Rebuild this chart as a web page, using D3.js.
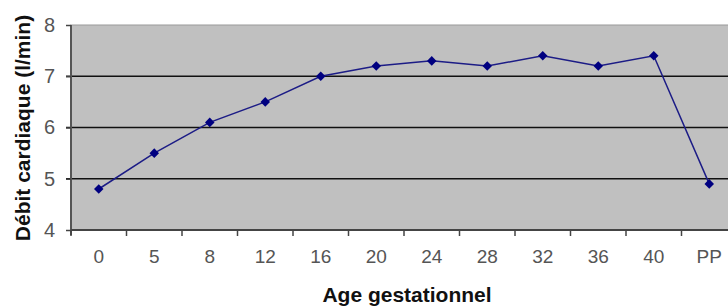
<!DOCTYPE html>
<html>
<head>
<meta charset="utf-8">
<script src="https://cdn.jsdelivr.net/npm/d3@7"></script>
<style>
  body { margin: 0; background: #fff; }
  text { font-family: Arial, "Liberation Sans", sans-serif; }
</style>
</head>
<body>
<svg id="chart"></svg>
<script>
// Data
const ages = ["0", "5", "8", "12", "16", "20", "24", "28", "32", "36", "40", "PP"];
const debit = [4.8, 5.5, 6.1, 6.5, 7.0, 7.2, 7.3, 7.2, 7.4, 7.2, 7.4, 4.9];
const yTicks = [4, 5, 6, 7, 8];

const width = 728;
const height = 306;
const plotLeft = 71, plotRight = 737, plotTop = 25, plotBottom = 230;

let svg = d3.select("#chart").attr("width", width).attr("height", height);

let x = d3.scaleBand().domain(ages).range([plotLeft, plotRight]).padding(0);
let y = d3.scaleLinear().domain([4, 8]).range([plotBottom, plotTop]);

// plot area
svg.append("rect")
  .attr("x", plotLeft).attr("y", plotTop)
  .attr("width", plotRight - plotLeft).attr("height", plotBottom - plotTop)
  .attr("fill", "#c0c0c0")
  .attr("stroke", "#9a9a9a")
  .attr("stroke-width", 1);

// gridlines
svg.append("g")
  .selectAll("line")
  .data(yTicks.filter((d) => d > 4 && d < 8))
  .enter()
  .append("line")
  .attr("x1", plotLeft - 5).attr("x2", plotRight)
  .attr("y1", (d) => y(d)).attr("y2", (d) => y(d))
  .attr("stroke", "#111")
  .attr("stroke-width", 1.6);

// y axis
svg.append("line")
  .attr("x1", plotLeft).attr("x2", plotLeft)
  .attr("y1", plotTop).attr("y2", plotBottom + 5)
  .attr("stroke", "#555").attr("stroke-width", 2);

svg.append("g")
  .attr("transform", "translate(" + plotLeft + ",0)")
  .call(d3.axisLeft(y).tickValues(yTicks).tickFormat(d3.format("d")).tickSize(5).tickPadding(11))
  .call((g) => g.select(".domain").remove())
  .call((g) => g.selectAll("line").attr("stroke", "#444").attr("stroke-width", 1.5))
  .call((g) => g.selectAll("text").attr("font-size", 20).attr("fill", "#555")
    .style("font-family", "Arial, 'Liberation Sans', sans-serif"));

// x axis
svg.append("line")
  .attr("x1", plotLeft).attr("x2", plotRight)
  .attr("y1", plotBottom).attr("y2", plotBottom)
  .attr("stroke", "#444").attr("stroke-width", 2);

svg.append("g")
  .selectAll("line")
  .data(ages)
  .enter()
  .append("line")
  .attr("x1", (d) => x(d)).attr("x2", (d) => x(d))
  .attr("y1", plotBottom).attr("y2", plotBottom + 6)
  .attr("stroke", "#444").attr("stroke-width", 1.5);

svg.append("g")
  .attr("transform", "translate(0," + plotBottom + ")")
  .call(d3.axisBottom(x).tickSize(0).tickPadding(20))
  .call((g) => g.select(".domain").remove())
  .call((g) => g.selectAll("text").attr("font-size", 19).attr("fill", "#555")
    .style("font-family", "Arial, 'Liberation Sans', sans-serif"));

// line
let line = d3.line()
  .x((d, i) => x(ages[i]) + x.bandwidth() / 2)
  .y((d) => y(d));

svg.append("path")
  .datum(debit)
  .attr("d", line)
  .attr("fill", "none")
  .attr("stroke", "#1c1c86")
  .attr("stroke-width", 1.5);

// markers
svg.append("g")
  .selectAll("path")
  .data(debit)
  .enter()
  .append("path")
  .attr("d", d3.symbol().type(d3.symbolDiamond2).size(58))
  .attr("transform", (d, i) => "translate(" + (x(ages[i]) + x.bandwidth() / 2) + "," + y(d) + ")")
  .attr("fill", "#000080");

// titles
svg.append("text")
  .attr("x", 407)
  .attr("y", 302)
  .attr("text-anchor", "middle")
  .attr("font-size", 21)
  .attr("font-weight", "bold")
  .attr("fill", "#111")
  .text("Age gestationnel");

svg.append("text")
  .attr("transform", "translate(30," + 128 + ") rotate(-90)")
  .attr("text-anchor", "middle")
  .attr("font-size", 21)
  .attr("font-weight", "bold")
  .attr("fill", "#111")
  .text("Débit cardiaque (l/min)");
</script>
</body>
</html>
